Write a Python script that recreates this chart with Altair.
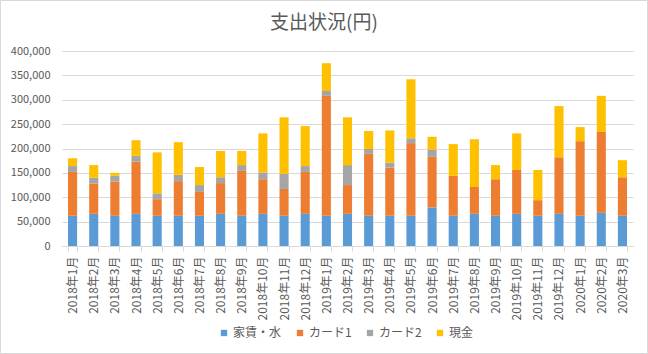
import altair as alt
import pandas as pd

months = ["2018年1月", "2018年2月", "2018年3月", "2018年4月", "2018年5月", "2018年6月",
          "2018年7月", "2018年8月", "2018年9月", "2018年10月", "2018年11月", "2018年12月",
          "2019年1月", "2019年2月", "2019年3月", "2019年4月", "2019年5月", "2019年6月",
          "2019年7月", "2019年8月", "2019年9月", "2019年10月", "2019年11月", "2019年12月",
          "2020年1月", "2020年2月", "2020年3月"]

rent = [62000, 66000, 62000, 66000, 62000, 62000, 62000, 66000, 62000, 66000, 62000, 66000,
        62000, 66000, 62000, 62000, 62000, 79000, 62000, 66000, 62000, 66000, 62000, 66000,
        62000, 68000, 62000]
card1 = [90000, 62000, 70000, 107000, 34000, 71000, 49000, 63000, 92000, 71000, 55000, 86000,
         246000, 59000, 127000, 99000, 149000, 104000, 82000, 55000, 75000, 90000, 32000, 116000,
         153000, 166000, 79000]
card2 = [12000, 12000, 12000, 12000, 12000, 13000, 14000, 12000, 12000, 14000, 31000, 12000,
         10000, 41000, 10000, 10000, 10000, 15000, 0, 0, 0, 0, 0, 0,
         0, 0, 0]
cash = [16000, 26000, 6000, 32000, 84000, 67000, 37000, 54000, 29000, 80000, 116000, 82000,
        57000, 98000, 37000, 66000, 121000, 26000, 65000, 98000, 29000, 75000, 62000, 105000,
        29000, 74000, 35000]

series = ["家賃・水", "カード1", "カード2", "現金"]
colors = ["#5B9BD5", "#ED7D31", "#A5A5A5", "#FFC000"]
y_ticks = [0, 50000, 100000, 150000, 200000, 250000, 300000, 350000, 400000]
title_text = "支出状況(円)"

rows = []
for k, (name, vals) in enumerate(zip(series, [rent, card1, card2, cash])):
    for m, v in zip(months, vals):
        rows.append({"month": m, "series": name, "value": v, "k": k})
df = pd.DataFrame(rows)

FONT = "Noto Sans CJK JP"
GRAY = "#595959"
LINE = "#D9D9D9"

bars = alt.Chart(df).mark_bar().encode(
    x=alt.X("month:N", sort=months,
            scale=alt.Scale(paddingInner=0.57, paddingOuter=0.285),
            axis=alt.Axis(title=None, labelAngle=-90, labelFontSize=12, labelColor=GRAY,
                          labelFont=FONT, labelPadding=5, tickBand="extent", ticks=True,
                          tickSize=5, tickColor=LINE, domainColor=LINE, grid=False)),
    y=alt.Y("value:Q", stack="zero",
            scale=alt.Scale(domain=[0, 400000], nice=False),
            axis=alt.Axis(title=None, values=y_ticks, format=",.0f", labelFontSize=11,
                          labelColor=GRAY, labelFont=FONT, labelPadding=12, ticks=False,
                          domain=False, gridColor=LINE, gridWidth=1)),
    color=alt.Color("series:N", sort=series,
                    scale=alt.Scale(domain=series, range=colors),
                    legend=alt.Legend(title=None, orient="none", direction="horizontal",
                                      legendX=156, legendY=276, symbolType="square",
                                      symbolSize=40, symbolStrokeWidth=0, labelFontSize=12,
                                      labelColor=GRAY, labelFont=FONT, columnPadding=12,
                                      labelOffset=3)),
    order=alt.Order("k:Q", sort="ascending"),
)

one = alt.Data(values=[{"a": 1}])

frame = alt.Chart(one).mark_rect(
    fill=None, stroke=LINE, strokeWidth=1
).encode(
    x=alt.value(-61.5), x2=alt.value(585.5), y=alt.value(-50.5), y2=alt.value(302.5)
)

title = alt.Chart(one).mark_text(
    font=FONT, fontSize=19, color=GRAY, align="center", baseline="middle"
).encode(
    text=alt.value(title_text), x=alt.value(262), y=alt.value(-28)
)

chart = alt.layer(bars, frame, title).properties(
    width=571, height=195,
    autosize=alt.AutoSizeParams(type="none"),
    padding={"left": 62, "top": 51, "right": 15, "bottom": 108},
    background="white",
).configure_view(stroke=None)

chart.save("out.html", embed_options={"renderer": "svg", "actions": False})
